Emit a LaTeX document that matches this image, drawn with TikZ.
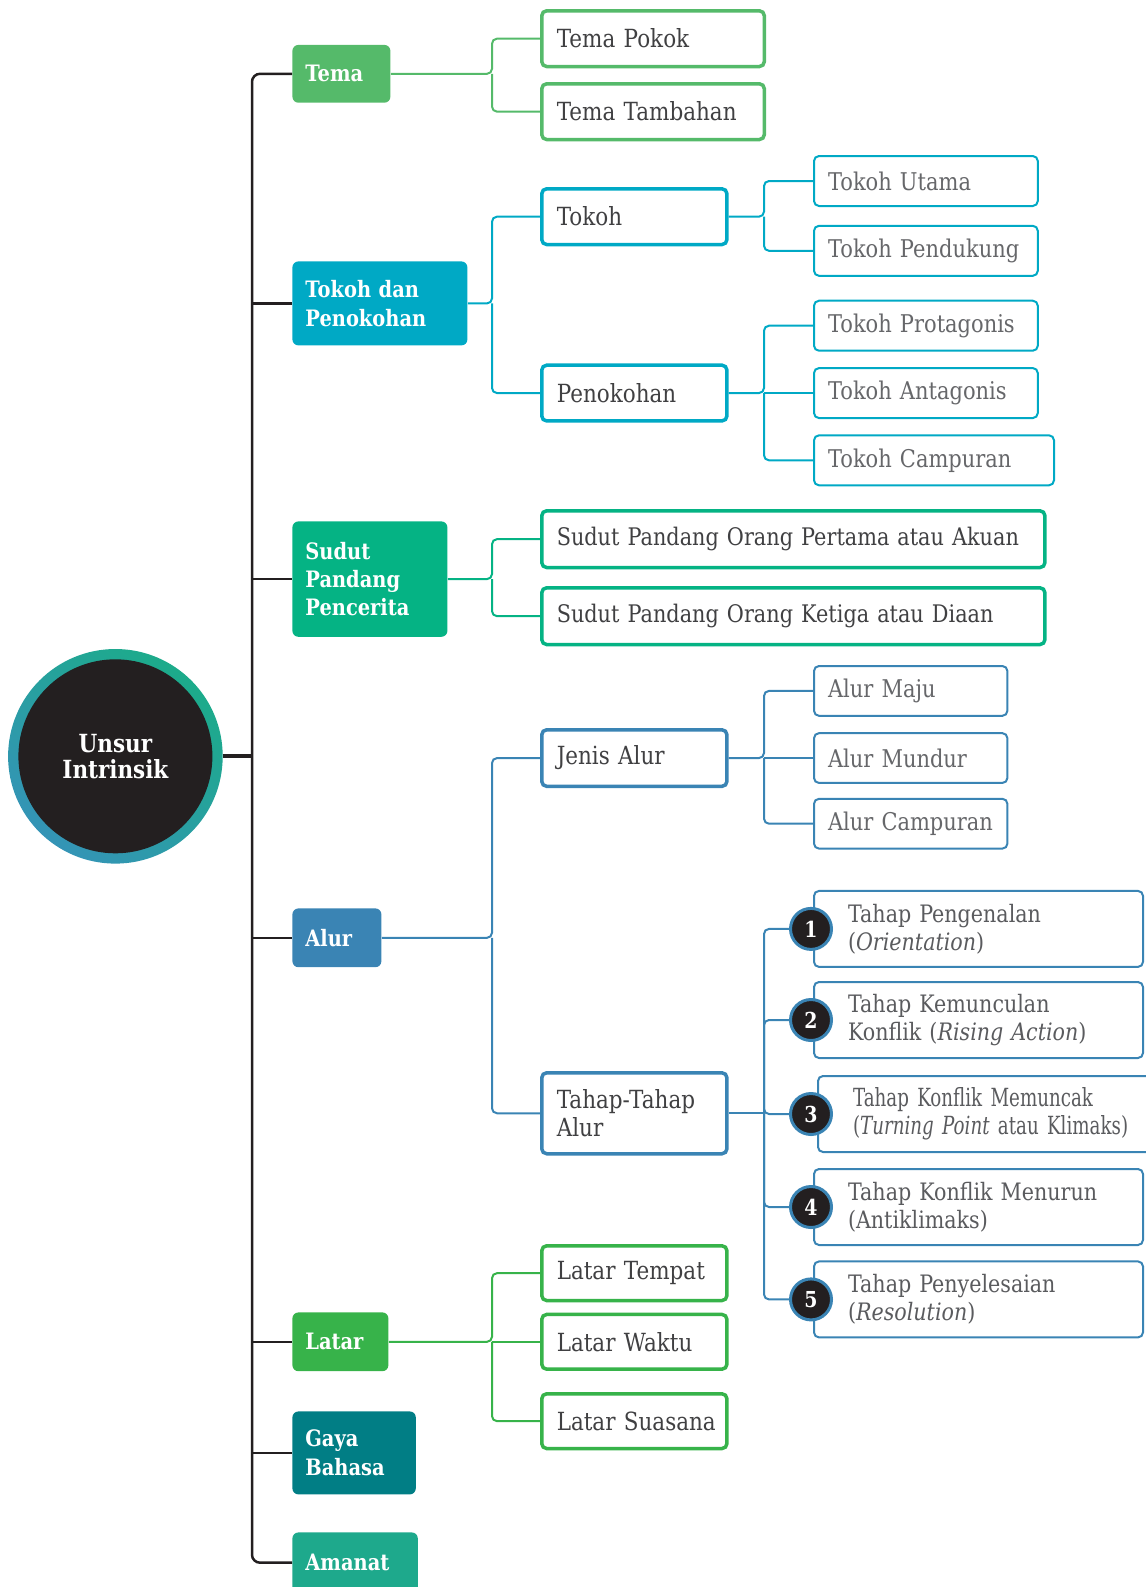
\documentclass[tikz,border=0pt]{standalone}
\usepackage{fontspec}
\setmainfont[FakeStretch=0.86]{DejaVu Serif}
\newfontfamily\narrowserif[FakeStretch=0.73]{DejaVu Serif}

\definecolor{coreblk}{HTML}{231F20}
\definecolor{ringgreen}{HTML}{1CAB8A}
\definecolor{ringblue}{HTML}{3494B6}
\definecolor{temagreen}{HTML}{55BA6A}
\definecolor{tokohcyan}{HTML}{00A9C5}
\definecolor{sudutgreen}{HTML}{05B384}
\definecolor{alurblue}{HTML}{3A84B4}
\definecolor{latargreen}{HTML}{37B34A}
\definecolor{gayateal}{HTML}{017E85}
\definecolor{amanatteal}{HTML}{1EA98C}
\definecolor{subtext}{HTML}{404042}
\definecolor{leaftext}{HTML}{66676A}
\definecolor{stagetext}{HTML}{5A5B5E}

\begin{document}
\begin{tikzpicture}[x=0.5pt,y=-0.5pt]
\tikzset{
  branch/.style={fill=#1, rounded corners=3pt, anchor=north west, text=white,
    font=\bfseries\fontsize{11.3}{14.2}\selectfont, align=left, inner xsep=6.5pt, inner ysep=0pt},
  sub/.style={draw=#1, line width=1.75pt, rounded corners=2.5pt, fill=white, anchor=north west,
    text=subtext, font=\fontsize{12.5}{14.2}\selectfont, align=left, inner xsep=7.5pt, inner ysep=0pt},
  leaf/.style={draw=#1, line width=1pt, rounded corners=2.5pt, fill=white, anchor=north west,
    text=leaftext, font=\fontsize{12.2}{14.2}\selectfont, align=left, inner xsep=7pt, inner ysep=0pt},
  stage/.style={leaf=alurblue, inner xsep=17pt, text=stagetext, text width=130.5pt,
    minimum height=38pt, font=\fontsize{12}{14}\selectfont},
  num/.style={circle, fill=coreblk, draw=alurblue, line width=1.5pt, minimum size=20.5pt,
    inner sep=0pt, text=white, font=\bfseries\fontsize{11}{11}\selectfont},
  link/.style={draw=#1, line width=1pt, rounded corners=2.5pt},
  trunk/.style={draw=coreblk, line width=1.25pt, rounded corners=4pt},
}
\useasboundingbox (0,0) rectangle (1146,1587);
\clip (0,0) rectangle (1146,1587);

% centre
\shade[top color=ringgreen, bottom color=ringblue, shading angle=-40] (115.4,756.3) circle (107.3);
\node[circle, fill=coreblk, minimum size=97pt, outer sep=5.1pt, text=white, align=center,
  font=\bfseries\fontsize{12.5}{13.8}\selectfont] (core) at (115.4,756.3) {Unsur\\[-1pt]Intrinsik};

% first level
\node[branch=temagreen, text width=36pt, minimum height=28.9pt] (tema) at (292,44.5) {Tema};
\node[branch=tokohcyan, text width=74.5pt, minimum height=42pt] (tokdan) at (292,261) {Tokoh dan\\Penokohan};
\node[branch=sudutgreen, text width=64.5pt, minimum height=57.7pt] (sudut) at (292,521) {Sudut\\Pandang\\Pencerita};
\node[branch=alurblue, text width=31.5pt, minimum height=29.4pt] (alur) at (292,908) {Alur};
\node[branch=latargreen, text width=35pt, minimum height=29.4pt] (latar) at (292,1312) {Latar};
\node[branch=gayateal, text width=48.7pt, minimum height=41.5pt] (gaya) at (292,1411) {Gaya\\Bahasa};
\node[branch=amanatteal, text width=49.7pt, minimum height=30.3pt] (amanat) at (292,1532) {Amanat};

\coordinate (trunktop) at (tema.west -| 252,0);
\coordinate (trunkbot) at (amanat.west -| 252,0);
\draw[trunk] (tema.west) -- (trunktop) -- (trunkbot) -- (amanat.west);
\draw[coreblk, line width=2pt] (core.east) -- (core.east -| trunktop);
\foreach \n in {tokdan,sudut,alur,latar,gaya}
  \draw[coreblk, line width=1.25pt] (\n.west -| trunktop) -- (\n.west);

% tema
\node[sub=temagreen, text width=96.3pt, minimum height=27.9pt] (pokok) at (540,9) {Tema Pokok};
\node[sub=temagreen, text width=96.3pt, minimum height=27.9pt] (tambahan) at (540,82) {Tema Tambahan};
\coordinate (temasp) at (tema.east -| 492,0);
\draw[link=temagreen] (tema.east) -- (temasp) |- (pokok.west);
\draw[link=temagreen] (temasp) |- (tambahan.west);

% tokoh dan penokohan
\node[sub=tokohcyan, text width=77.6pt, minimum height=27.9pt] (tokoh) at (540,187) {Tokoh};
\node[sub=tokohcyan, text width=77.6pt, minimum height=27.9pt] (penokohan) at (540,363.4) {Penokohan};
\coordinate (tokdansp) at (tokdan.east -| 492,0);
\draw[link=tokohcyan] (tokdan.east) -- (tokdansp) |- (tokoh.west);
\draw[link=tokohcyan] (tokdansp) |- (penokohan.west);

\node[leaf=tokohcyan, text width=97.9pt, minimum height=25pt] (utama) at (813,155) {Tokoh Utama};
\node[leaf=tokohcyan, text width=97.9pt, minimum height=25pt] (pendukung) at (813,224.8) {Tokoh Pendukung};
\coordinate (tokohsp) at (tokoh.east -| 764,0);
\draw[link=tokohcyan] (tokoh.east) -- (tokohsp) |- (utama.west);
\draw[link=tokohcyan] (tokohsp) |- (pendukung.west);

\coordinate (penosp) at (penokohan.east -| 764,0);
\node[leaf=tokohcyan, text width=97.9pt, minimum height=25pt] (protag) at (813,299.7) {Tokoh Protagonis};
\node[leaf=tokohcyan, text width=97.9pt, minimum height=25pt, anchor=west] (antag) at (penosp -| 813,0) {Tokoh Antagonis};
\node[leaf=tokohcyan, text width=106pt, minimum height=25pt] (tcampur) at (813,434.3) {Tokoh Campuran};
\draw[link=tokohcyan] (penokohan.east) -- (penosp) |- (protag.west);
\draw[link=tokohcyan] (penosp) -- (antag.west);
\draw[link=tokohcyan] (penosp) |- (tcampur.west);

% sudut pandang
\node[sub=sudutgreen, text width=236.6pt, minimum height=28.4pt, font=\fontsize{12.1}{14.2}\selectfont] (akuan) at (540,509) {\mbox{Sudut Pandang Orang Pertama atau Akuan}};
\node[sub=sudutgreen, text width=236.6pt, minimum height=28.4pt, font=\fontsize{12.1}{14.2}\selectfont] (diaan) at (540,586) {\mbox{Sudut Pandang Orang Ketiga atau Diaan}};
\coordinate (sudutsp) at (sudut.east -| 492,0);
\draw[link=sudutgreen] (sudut.east) -- (sudutsp) |- (akuan.west);
\draw[link=sudutgreen] (sudutsp) |- (diaan.west);

% alur
\node[sub=alurblue, text width=77.6pt, minimum height=28.3pt] (jenis) at (540,728) {Jenis Alur};
\node[sub=alurblue, text width=77.6pt, minimum height=40.5pt] (tahap) at (540,1071) {Tahap-Tahap\\Alur};
\coordinate (alursp) at (alur.east -| 492,0);
\draw[link=alurblue] (alur.east) -- (alursp) |- (jenis.west);
\draw[link=alurblue] (alursp) |- (tahap.west);

\coordinate (jenissp) at (jenis.east -| 764,0);
\node[leaf=alurblue, text width=82.7pt, minimum height=24.9pt] (maju) at (813,665) {Alur Maju};
\node[leaf=alurblue, text width=82.7pt, minimum height=24.9pt, anchor=west] (mundur) at (jenissp -| 813,0) {Alur Mundur};
\node[leaf=alurblue, text width=82.7pt, minimum height=24.9pt] (acampur) at (813,797.8) {\mbox{Alur Campuran}};
\draw[link=alurblue] (jenis.east) -- (jenissp) |- (maju.west);
\draw[link=alurblue] (jenissp) -- (mundur.west);
\draw[link=alurblue] (jenissp) |- (acampur.west);

\node[stage] (tahap1) at (813,889.9) {Tahap Pengenalan\\(\textit{Orientation})};
\node[stage] (tahap2) at (813,981) {Tahap Kemunculan\\Konflik (\textit{Rising Action})};
\node[stage, text width=136pt, inner xsep=17.5pt, font=\narrowserif\fontsize{12.5}{14}\selectfont] (tahap3) at (817,1075)
  {\mbox{Tahap Konflik Memuncak}\\\mbox{(\textit{Turning Point} atau Klimaks)}};
\node[stage] (tahap4) at (813,1168) {Tahap Konflik Menurun\\(Antiklimaks)};
\node[stage] (tahap5) at (813,1260.4) {Tahap Penyelesaian\\(\textit{Resolution})};
\foreach \i in {1,...,5}
  \node[num] (no\i) at (tahap\i.west -| 811,0) {\i};
\coordinate (tahapsp) at (tahap.east -| 764,0);
\draw[link=alurblue] (tahap.east) -- (tahapsp);
\foreach \i in {1,...,5}
  \draw[link=alurblue] (tahapsp) |- (no\i.west);

% latar
\coordinate (latarsp) at (latar.east -| 492,0);
\node[sub=latargreen, text width=77.6pt, minimum height=27.4pt] (tempat) at (540,1244) {Latar Tempat};
\node[sub=latargreen, text width=77.6pt, minimum height=27.4pt, anchor=west] (waktu) at (latarsp -| 540,0) {Latar Waktu};
\node[sub=latargreen, text width=77.6pt, minimum height=27.4pt] (suasana) at (540,1392) {\mbox{Latar Suasana}};
\draw[link=latargreen] (latar.east) -- (latarsp) |- (tempat.west);
\draw[link=latargreen] (latarsp) -- (waktu.west);
\draw[link=latargreen] (latarsp) |- (suasana.west);
\end{tikzpicture}
\end{document}
